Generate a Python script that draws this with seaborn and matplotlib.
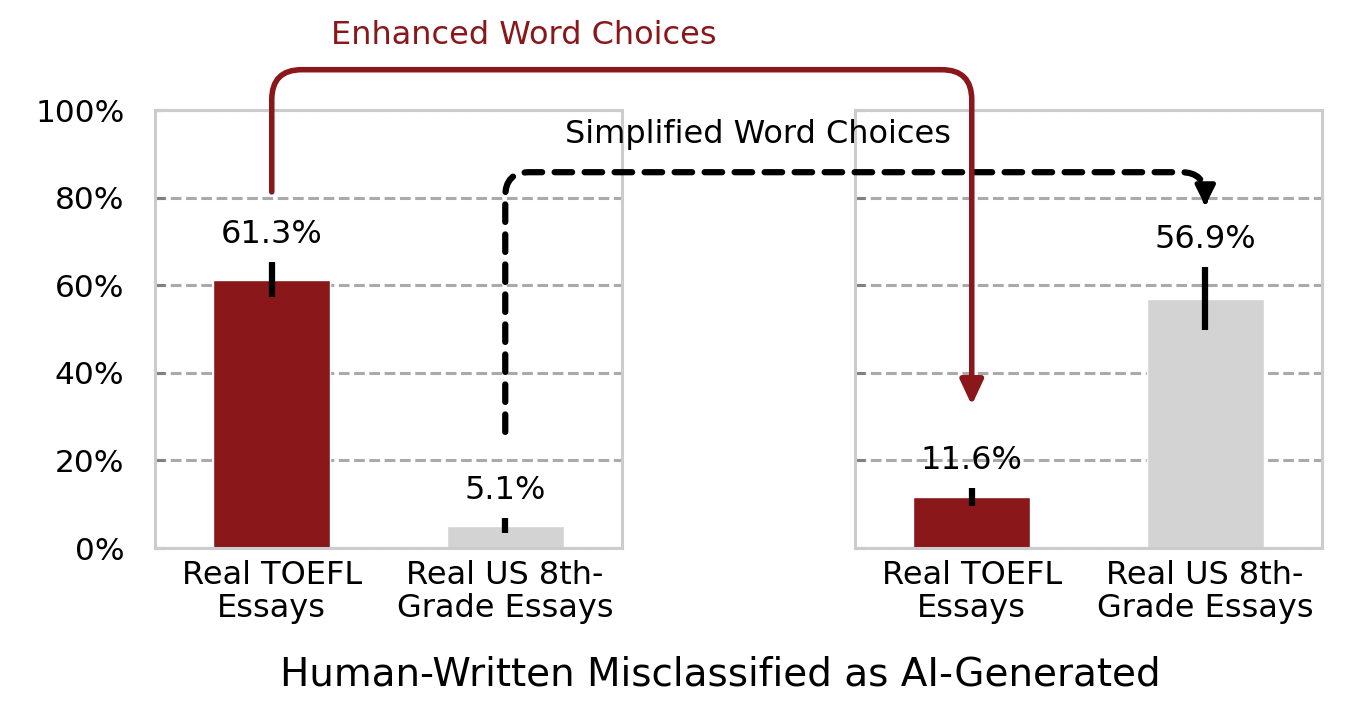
import matplotlib
matplotlib.use("Agg")
import matplotlib.pyplot as plt
import seaborn as sns
import numpy as np
from matplotlib.path import Path
from matplotlib.patches import FancyArrowPatch, PathPatch

# data
groups = ['Real TOEFL\nEssays', 'Real US 8th-\nGrade Essays']
original_rates = [61.3, 5.1]
original_err = [4.0, 1.7]
modified_rates = [11.6, 56.9]
modified_err = [2.0, 7.2]
bar_colors = ['#8a171a', '#d3d3d3']
yticks = [0, 20, 40, 60, 80, 100]

sns.set_style('white')
plt.rcParams['font.family'] = ['DejaVu Sans']
plt.rcParams['text.color'] = 'black'
plt.rcParams['xtick.color'] = 'black'
plt.rcParams['ytick.color'] = 'black'
plt.rcParams['axes.labelcolor'] = 'black'

fig = plt.figure(figsize=(13.66, 7.24), dpi=100)
ax_left = fig.add_axes([155 / 1366, 1 - 548 / 724, 467 / 1366, 438 / 724])
ax_right = fig.add_axes([855 / 1366, 1 - 548 / 724, 467 / 1366, 438 / 724])


def draw_panel(ax, rates, errs, show_labels):
    sns.barplot(x=groups, y=rates, hue=groups, palette=bar_colors,
                width=0.5, legend=False, ax=ax, errorbar=None, saturation=1)
    ax.errorbar(range(len(rates)), rates, yerr=errs, fmt='none',
                ecolor='black', elinewidth=4.5, capsize=0, zorder=3)
    for i, (m, e) in enumerate(zip(rates, errs)):
        ax.text(i, m + e + 2.8, f'{m:.1f}%', ha='center', va='bottom',
                fontsize=23, color='black')
    ax.set_xlim(-0.5, 1.5)
    ax.set_ylim(0, 100)
    ax.set_yticks(yticks)
    if show_labels:
        ax.set_yticklabels([f'{t}%' for t in yticks])
    else:
        ax.set_yticklabels([])
    ax.yaxis.grid(True, linestyle=(0, (3.5, 1.5)), color='#aaaaaa', linewidth=2.2)
    ax.set_axisbelow(True)
    ax.tick_params(axis='y', direction='in', length=7, width=2.2, color='#808080',
                   labelcolor='black', labelsize=22.5, pad=22, left=True)
    ax.tick_params(axis='x', length=0, labelsize=23, labelcolor='black', pad=9)
    for lbl in ax.get_xticklabels():
        lbl.set_linespacing(1.05)
    for s in ax.spines.values():
        s.set_color('#cccccc')
        s.set_linewidth(2.2)
        s.set_visible(True)
    ax.set_xlabel('')
    ax.set_ylabel('')


draw_panel(ax_left, original_rates, original_err, True)
draw_panel(ax_right, modified_rates, modified_err, False)

fig_px = np.array([1366.0, 724.0])


def rounded_path(pts, r):
    # pts in pixels: start, corner1, corner2, end
    verts = [pts[0]]
    codes = [Path.MOVETO]
    for k in (1, 2):
        prev, cur, nxt = pts[k - 1], pts[k], pts[k + 1]
        d1 = (cur - prev) / np.linalg.norm(cur - prev)
        d2 = (nxt - cur) / np.linalg.norm(nxt - cur)
        verts += [cur - d1 * r, cur, cur + d2 * r]
        codes += [Path.LINETO, Path.CURVE3, Path.CURVE3]
    verts.append(pts[3])
    codes.append(Path.LINETO)
    verts = [v / fig_px for v in verts]
    return Path(verts, codes)


def px(ax, x, y):
    return ax.transData.transform((x, y))


red = '#8a171a'

# simplified word choices: US 8th grade, left -> right (dashed black)
b0 = px(ax_left, 1, 26.5)
b3 = px(ax_right, 1, 77.5)
b1 = np.array([b0[0], px(ax_left, 1, 85.8)[1]])
b2 = np.array([b3[0], b1[1]])
bpath = rounded_path([b0, b1, b2, b3 + np.array([0, 10])], 24)
fig.patches.append(PathPatch(bpath, fill=False, edgecolor='black', linewidth=4.5,
                             linestyle=(0, (2.8, 2.0)), capstyle='round',
                             transform=fig.transFigure, zorder=5))
head_b = FancyArrowPatch(posA=(b3 + np.array([0, 12])) / fig_px, posB=b3 / fig_px,
                         arrowstyle='-|>,head_length=0.6,head_width=0.3',
                         mutation_scale=20, color='black', linewidth=3.5,
                         joinstyle='round', capstyle='round',
                         transform=fig.transFigure, zorder=5)
fig.patches.append(head_b)

# enhanced word choices: TOEFL, left -> right (solid red)
r0 = px(ax_left, 0, 81.3)
r3 = px(ax_right, 0, 32.6)
r1 = np.array([r0[0], px(ax_left, 0, 109.2)[1]])
r2 = np.array([r3[0], r1[1]])
rpath = rounded_path([r0, r1, r2, r3], 30)
arrow_r = FancyArrowPatch(path=rpath, arrowstyle='-|>,head_length=0.75,head_width=0.35',
                          mutation_scale=20, color=red, linewidth=4,
                          capstyle='round', joinstyle='round',
                          transform=fig.transFigure, zorder=6)
fig.patches.append(arrow_r)

fig.text(524 / 1366, 1 - 35 / 724, 'Enhanced Word Choices', color=red,
         fontsize=23, ha='center', va='center')
fig.text(758 / 1366, 1 - 135 / 724, 'Simplified Word Choices', color='black',
         fontsize=23, ha='center', va='center')
fig.text(720 / 1366, 1 - 675 / 724, 'Human-Written Misclassified as AI-Generated',
         fontsize=28, ha='center', va='center', color='black')

fig.savefig('out.png', dpi=100)
